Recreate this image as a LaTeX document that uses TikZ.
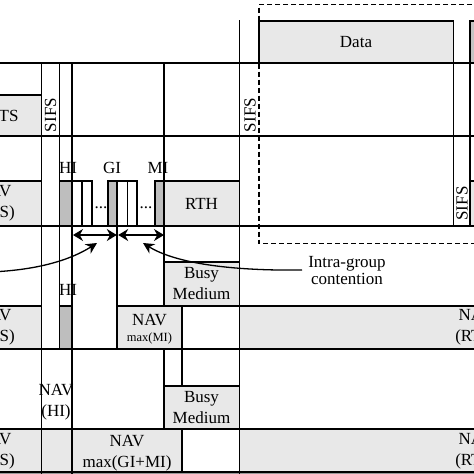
\documentclass[tikz,border=0pt]{standalone}
\usepackage{fontspec}
\setmainfont{Liberation Serif}
\usetikzlibrary{arrows.meta}
\definecolor{lgray}{HTML}{E8E8E8}
\definecolor{dgray}{HTML}{BEBEBE}
\definecolor{mgray}{HTML}{C4C4C4}
\begin{document}
\begin{tikzpicture}[x=1pt,y=-1pt,line width=1.2pt,
  lbox/.style={draw=black,fill=lgray},
  dbox/.style={draw=black,fill=dgray},
  wbox/.style={draw=black,fill=white},
  lbl/.style={font=\fontsize{17}{21}\selectfont,inner sep=0pt,align=center},
  sml/.style={font=\fontsize{12.5}{14}\selectfont,inner sep=0pt},
  vlbl/.style={lbl,rotate=90},
  dbl/.style={{Stealth[length=10pt,width=12pt]}-{Stealth[length=10pt,width=12pt]},line width=1.3pt},
  crv/.style={-{Stealth[length=11pt,width=11pt]},line width=1.3pt},
  dsh/.style={dash pattern=on 5pt off 3pt,line width=1.2pt}]
\useasboundingbox (0,0) rectangle (474,474);
\clip (0,0) rectangle (474,474);
\fill[white] (0,0) rectangle (474,474);
% ---------- boxes ----------
% row 1
\draw[lbox] (-40,95) rectangle (41.5,136);
\draw[lbox] (259,21) rectangle (453.5,63);
\draw[draw=black,fill=mgray] (470,21) rectangle (500,63);
% row 2
\draw[lbox] (-40,181) rectangle (41.5,226);
\draw[dbox] (59.5,181) rectangle (72,226);
\draw[wbox] (72,181) rectangle (82,226);
\draw[wbox] (82,181) rectangle (92,226);
\draw[dbox] (108,181) rectangle (117,226);
\draw[wbox] (117,181) rectangle (127.5,226);
\draw[wbox] (127.5,181) rectangle (137,226);
\draw[dbox] (155,181) rectangle (164,226);
\draw[lbox] (164,181) rectangle (239.5,226);
\draw[lbox] (470,181) rectangle (500,226);
% row 3
\draw[lbox] (164,262) rectangle (239.5,306);
\draw[lbox] (-40,306) rectangle (41.5,349);
\draw[dbox] (59.5,306) rectangle (72,349);
\draw[lbox] (117,306) rectangle (182,349);
\draw[wbox] (182,306) rectangle (239.5,349);
\draw[lbox] (239.5,306) rectangle (520,349);
% row 4
\draw[lbox] (164,386) rectangle (239.5,429);
\draw[lbox] (-40,429) rectangle (41.5,472);
\draw[lbox] (41.5,429) rectangle (72,472);
\draw[lbox] (72,429) rectangle (182,472);
\draw[wbox] (182,429) rectangle (239.5,472);
\draw[lbox] (239.5,429) rectangle (520,472);
\fill[black!40] (0,472) rectangle (474,476);
% ---------- time lines ----------
\draw (0,63) -- (474,63);
\draw (0,136) -- (474,136);
\draw (0,226) -- (474,226);
\draw (0,349) -- (474,349);
\draw (0,429) -- (474,429);
\draw (0,472) -- (474,472);
% ---------- vertical lines ----------
\draw (41.5,63) -- (41.5,476);
\draw (59.5,63) -- (59.5,350);
\draw (72,63) -- (72,476);
\draw (164,63) -- (164,262);
\draw (164,349) -- (164,386);
\draw (117,226) -- (117,306);
\draw (182,306) -- (182,386);
\draw (239.5,20) -- (239.5,476);
\draw (453.5,21) -- (453.5,226);
\draw (470,21) -- (470,226);
% ---------- dashed frame ----------
\draw[dsh] (520,4.7) -- (259,4.7) -- (259,243.7) -- (520,243.7);
% ---------- labels ----------
\node[lbl] (rts) at (3.5,115.5) {RTS};
\node[vlbl] (sifsA) at (50.5,115) {SIFS};
\node[vlbl] (sifsB) at (250,115) {SIFS};
\node[vlbl] (sifsC) at (462,203.5) {SIFS};
\node[lbl] (data) at (356,42) {Data};
\node[lbl] (navL2) at (-6,203.5) {NAV\\(RTS)};
\node[lbl] (hiA) at (68,168) {HI};
\node[lbl] (giA) at (112,168) {GI};
\node[lbl] (miA) at (158,168) {MI};
\node[lbl] (dotsA) at (101,208) {...};
\node[lbl] (dotsB) at (146,208) {...};
\node[lbl] (rth) at (201.5,203.5) {RTH};
\node[lbl] (busyA) at (201.5,283.5) {Busy\\Medium};
\node[lbl] (hiB) at (68,290) {HI};
\node[lbl] (navL3) at (-6,327.5) {NAV\\(RTS)};
\node[lbl] (navMI) at (149.5,320) {NAV};
\node[sml] (maxMI) at (149.5,338) {max(MI)};
\node[lbl] (navR3) at (476,327.5) {NAV\\(RTS)};
\node[lbl] (navHI) at (56,402) {NAV\\(HI)};
\node[lbl] (busyB) at (201.5,407.5) {Busy\\Medium};
\node[lbl] (navL4) at (-6,451.5) {NAV\\(RTS)};
\node[lbl] (navGM) at (127,441) {NAV};
\node[lbl] (maxGM) at (127,463) {max(GI+MI)};
\node[lbl] (navR4) at (476,451.5) {NAV\\(RTS)};
\node[lbl,font=\fontsize{17}{17}\selectfont] (intra) at (347,271) {Intra-group\\contention};
% ---------- arrows ----------
\coordinate (gA) at (73,235);
\coordinate (gB) at (116.8,235);
\coordinate (gC) at (118.2,235);
\coordinate (gD) at (164,235);
\draw[dbl] (gA) -- (gB);
\draw[dbl] (gC) -- (gD);
\coordinate (lstart) at (-10,272);
\coordinate (ltip) at (97,243);
\coordinate (rstart) at (302,270);
\coordinate (rtip) at (143,243);
\draw[crv] (lstart) .. controls (40,270) and (72,259) .. (ltip);
\draw[crv] (rstart) .. controls (230,271) and (175,263) .. (rtip);
\end{tikzpicture}
\end{document}
